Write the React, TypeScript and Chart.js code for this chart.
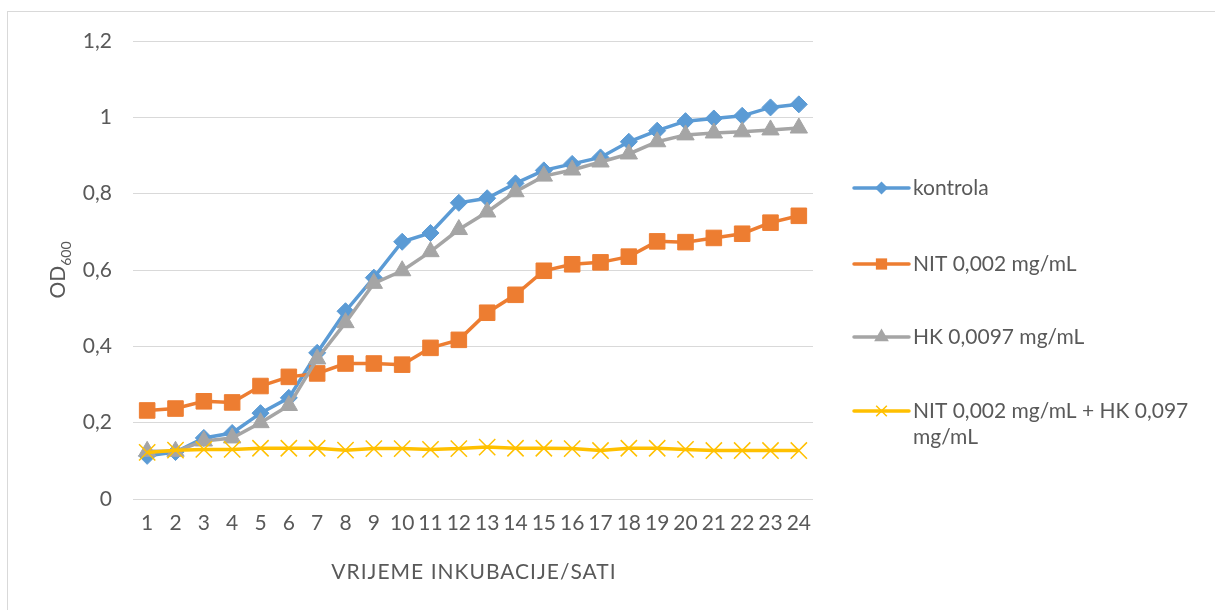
import React, { useEffect, useRef } from "react";
import { Chart, registerables } from "chart.js";

Chart.register(...registerables);

const hours = ["1","2","3","4","5","6","7","8","9","10","11","12","13","14","15","16","17","18","19","20","21","22","23","24"];
const kontrola = [0.113, 0.123, 0.16, 0.173, 0.225, 0.265, 0.383, 0.492, 0.58, 0.674, 0.697, 0.776, 0.788, 0.827, 0.861, 0.878, 0.895, 0.936, 0.965, 0.99, 0.997, 1.004, 1.026, 1.034];
const nit = [0.232, 0.237, 0.256, 0.253, 0.296, 0.32, 0.329, 0.355, 0.355, 0.352, 0.396, 0.417, 0.488, 0.535, 0.598, 0.615, 0.62, 0.635, 0.675, 0.673, 0.684, 0.695, 0.724, 0.742];
const hk = [0.125, 0.125, 0.152, 0.16, 0.2, 0.245, 0.367, 0.462, 0.565, 0.598, 0.648, 0.706, 0.752, 0.805, 0.846, 0.862, 0.883, 0.904, 0.936, 0.954, 0.959, 0.962, 0.967, 0.972];
const combo = [0.122, 0.128, 0.13, 0.13, 0.133, 0.133, 0.133, 0.128, 0.132, 0.132, 0.13, 0.132, 0.136, 0.133, 0.133, 0.132, 0.127, 0.133, 0.133, 0.13, 0.127, 0.127, 0.127, 0.127];

const seriesNames = ["kontrola", "NIT 0,002 mg/mL", "HK 0,0097 mg/mL", "NIT 0,002 mg/mL + HK 0,097 mg/mL"];
const legendLines = [["kontrola"], ["NIT 0,002 mg/mL"], ["HK 0,0097 mg/mL"], ["NIT 0,002 mg/mL + HK 0,097", "mg/mL"]];
const colors = ["#5B9BD5", "#ED7D31", "#A5A5A5", "#FFC000"];
const xTitle = "VRIJEME INKUBACIJE/SATI";
const yTitleMain = "OD";
const yTitleSub = "600";

const FONT = "Lato, 'Open Sans', sans-serif";
const FS = 21;
const TEXT = "#595959";

const frame = {
  id: "frame",
  beforeDraw(chart: any) {
    const ctx = chart.ctx;
    ctx.save();
    ctx.fillStyle = "#ffffff";
    ctx.fillRect(0, 0, chart.width, chart.height);
    ctx.strokeStyle = "#d9d9d9";
    ctx.lineWidth = 1;
    ctx.strokeRect(7.5, 11.5, 1400, 800);
    ctx.restore();
  },
};

function drawMarker(ctx: CanvasRenderingContext2D, style: string, r: number, x: number, y: number) {
  ctx.beginPath();
  if (style === "rectRot") {
    ctx.moveTo(x - r, y);
    ctx.lineTo(x, y - r);
    ctx.lineTo(x + r, y);
    ctx.lineTo(x, y + r);
    ctx.closePath();
    ctx.fill();
  } else if (style === "rect") {
    ctx.rect(x - r * 0.75, y - r * 0.75, r * 1.5, r * 1.5);
    ctx.fill();
  } else if (style === "triangle") {
    ctx.moveTo(x, y - r);
    ctx.lineTo(x + r * 0.866, y + r * 0.5);
    ctx.lineTo(x - r * 0.866, y + r * 0.5);
    ctx.closePath();
    ctx.fill();
  } else {
    const d = r * 0.707;
    ctx.moveTo(x - d, y - d);
    ctx.lineTo(x + d, y + d);
    ctx.moveTo(x + d, y - d);
    ctx.lineTo(x - d, y + d);
    ctx.stroke();
  }
}

const extras = {
  id: "extras",
  afterDraw(chart: any) {
    const ctx = chart.ctx;
    const area = chart.chartArea;
    // x title
    ctx.save();
    ctx.fillStyle = TEXT;
    ctx.font = `${FS}px ${FONT}`;
    (ctx as any).letterSpacing = "1px";
    ctx.textAlign = "center";
    ctx.textBaseline = "middle";
    ctx.fillText(xTitle, (area.left + area.right) / 2 + 1, 572);
    ctx.restore();

    // y title with subscript
    ctx.save();
    ctx.fillStyle = TEXT;
    ctx.font = `${FS}px ${FONT}`;
    const wMain = ctx.measureText(yTitleMain).width;
    ctx.font = `14px ${FONT}`;
    const wSub = ctx.measureText(yTitleSub).width;
    const total = wMain + wSub;
    ctx.translate(65, (area.top + area.bottom) / 2);
    ctx.rotate(-Math.PI / 2);
    ctx.textBaseline = "alphabetic";
    ctx.textAlign = "left";
    ctx.font = `${FS}px ${FONT}`;
    ctx.fillText(yTitleMain, -total / 2, 0);
    ctx.font = `14px ${FONT}`;
    ctx.fillText(yTitleSub, -total / 2 + wMain, 6);
    ctx.restore();

    // legend
    ctx.save();
    const ys = [188, 264, 337, 411];
    const styles = ["rectRot", "rect", "triangle", "crossRot"];
    const radii = [6.5, 7.5, 8.5, 7.5];
    ys.forEach((y, i) => {
      ctx.strokeStyle = colors[i];
      ctx.lineWidth = 3.5;
      ctx.lineCap = "round";
      ctx.beginPath();
      ctx.moveTo(854, y);
      ctx.lineTo(909, y);
      ctx.stroke();
      ctx.fillStyle = colors[i];
      ctx.lineWidth = 1.5;
      ctx.lineCap = "butt";
      drawMarker(ctx, styles[i], radii[i], 881.5, y);
      ctx.fillStyle = TEXT;
      ctx.font = `${FS}px ${FONT}`;
      ctx.textBaseline = "middle";
      ctx.textAlign = "left";
      legendLines[i].forEach((line, j) => {
        ctx.fillText(line, 913, y + j * 26);
      });
    });
    ctx.restore();
  },
};

export default function App() {
  const ref = useRef<HTMLCanvasElement>(null);
  useEffect(() => {
    if (!ref.current) return;
    const values = [kontrola, nit, hk, combo];
    const pointStyles = ["rectRot", "rect", "triangle", "crossRot"];
    const pointRadii = [8.5, 11, 10, 11.5];
    const chart = new Chart(ref.current, {
      type: "line",
      data: {
        labels: hours,
        datasets: values.map((v, i) => ({
          label: seriesNames[i],
          data: v,
          borderColor: colors[i],
          backgroundColor: colors[i],
          borderWidth: 3.5,
          pointStyle: pointStyles[i] as any,
          pointRadius: pointRadii[i],
          pointBorderWidth: i === 3 ? 1.5 : 1,
          pointBackgroundColor: colors[i],
          pointBorderColor: colors[i],
          tension: 0,
          order: 4 - i,
        })),
      },
      options: {
        responsive: false,
        animation: false,
        events: [],
        layout: { padding: { left: 0, top: 41, right: 402, bottom: 0 } },
        plugins: {
          legend: { display: false },
          tooltip: { enabled: false },
        },
        scales: {
          x: {
            type: "category",
            offset: true,
            grid: { display: false, drawTicks: false },
            border: { display: false },
            ticks: {
              color: TEXT,
              font: { family: FONT, size: FS },
              padding: 12,
              maxRotation: 0,
              autoSkip: false,
            },
            afterFit: (s: any) => {
              s.height = 111;
            },
          },
          y: {
            type: "linear",
            min: 0,
            max: 1.2,
            grid: { color: "#d9d9d9", lineWidth: 1, drawTicks: false },
            border: { display: false },
            ticks: {
              stepSize: 0.2,
              color: TEXT,
              font: { family: FONT, size: FS },
              padding: 21,
              callback: (v: any) => String(Math.round(Number(v) * 10) / 10).replace(".", ","),
            },
            afterFit: (s: any) => {
              s.width = 133;
            },
          },
        },
      },
      plugins: [frame, extras],
    });
    return () => chart.destroy();
  }, []);
  return (
    <canvas
      ref={ref}
      width={1215}
      height={610}
      style={{ position: "fixed", left: 0, top: 0, width: 1215, height: 610 }}
    />
  );
}
